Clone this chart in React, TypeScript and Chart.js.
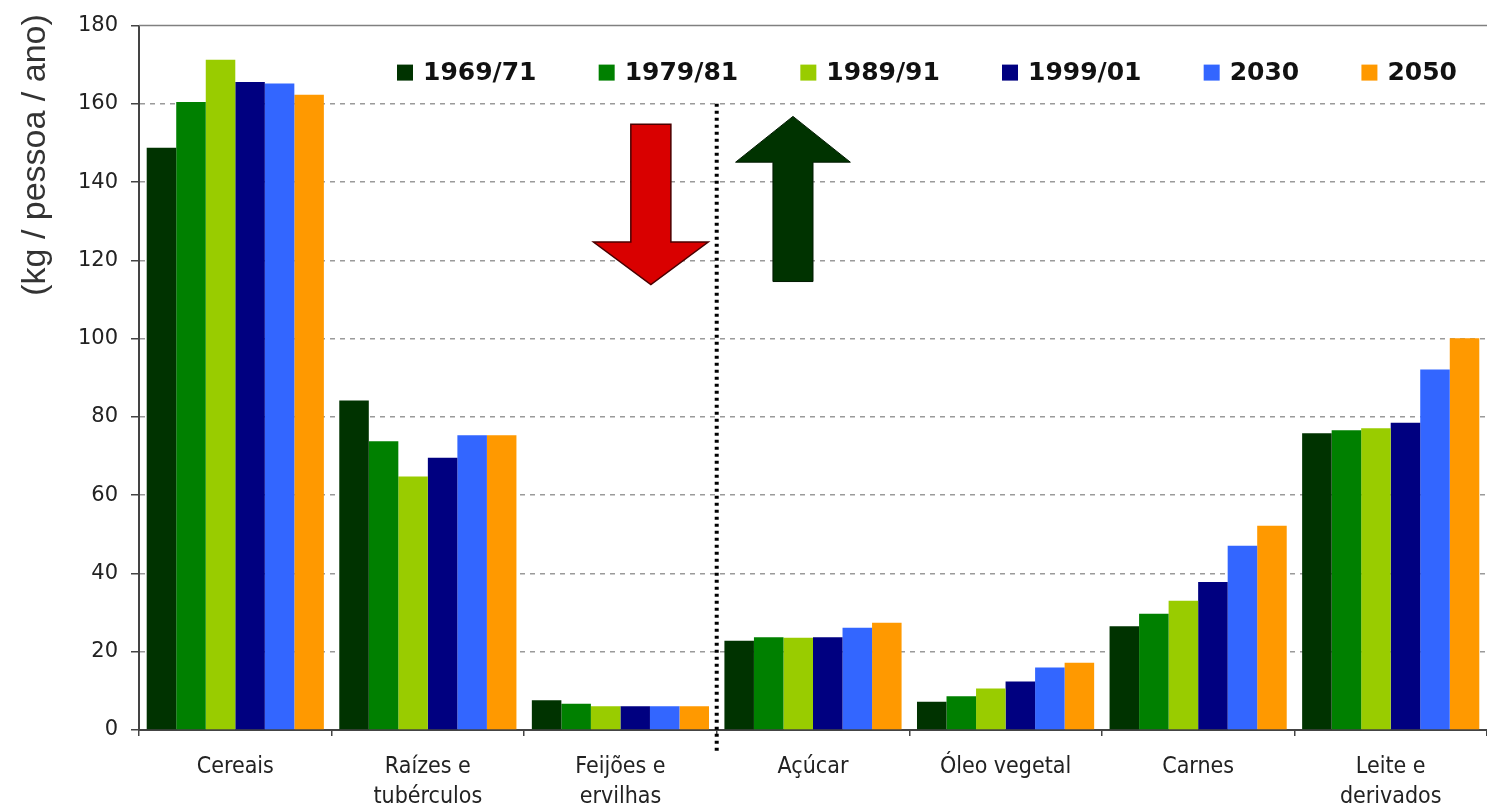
import React, { useEffect, useRef } from "react";
import { Chart, registerables } from "chart.js";

Chart.register(...registerables);

const categories: string[][] = [
  ["Cereais"],
  ["Raízes e", "tubérculos"],
  ["Feijões e", "ervilhas"],
  ["Açúcar"],
  ["Óleo vegetal"],
  ["Carnes"],
  ["Leite e", "derivados"],
];

const seriesLabels = ["1969/71", "1979/81", "1989/91", "1999/01", "2030", "2050"];
const seriesColors = ["#003300", "#008000", "#99CC00", "#000080", "#3366FF", "#FF9900"];

const v1969 = [148.8, 84.2, 7.6, 22.8, 7.2, 26.5, 75.8];
const v1979 = [160.5, 73.8, 6.7, 23.7, 8.6, 29.7, 76.6];
const v1989 = [171.3, 64.8, 6.1, 23.6, 10.6, 33.0, 77.1];
const v1999 = [165.6, 69.6, 6.1, 23.7, 12.4, 37.8, 78.5];
const v2030 = [165.2, 75.3, 6.1, 26.1, 16.0, 47.1, 92.1];
const v2050 = [162.3, 75.3, 6.1, 27.4, 17.2, 52.2, 100.1];
const seriesValues = [v1969, v1979, v1989, v1999, v2030, v2050];

const yTicks = [0, 20, 40, 60, 80, 100, 120, 140, 160, 180];
const yTitle = "(kg / pessoa / ano)";

// decorative arrows (in data units: category index, value)
const downArrow = { center: 2.158, top: 154.8, headBase: 124.7, tip: 113.8 };
const upArrow = { center: 2.896, tip: 156.8, headBase: 145.1, bottom: 114.6 };
const dividerIndex = 2.5;
const dividerTopValue = 160;

const FONT = "'DejaVu Sans', Verdana, sans-serif";
const FONT_COND = "'DejaVu Sans Condensed', 'DejaVu Sans', sans-serif";

const overlayPlugin = {
  id: "overlay",
  beforeDatasetsDraw(chart: any) {
    const { ctx, chartArea } = chart;
    ctx.save();
    ctx.strokeStyle = "#808080";
    ctx.lineWidth = 1.5;
    ctx.beginPath();
    ctx.moveTo(chartArea.left, chartArea.top);
    ctx.lineTo(chartArea.right, chartArea.top);
    ctx.stroke();
    ctx.restore();
  },
  afterDraw(chart: any) {
    const { ctx, chartArea } = chart;
    const xs = chart.scales.x;
    const ys = chart.scales.y;
    const catW = xs.getPixelForValue(1) - xs.getPixelForValue(0);

    // dotted divider
    const dx = xs.getPixelForValue(dividerIndex);
    ctx.save();
    ctx.strokeStyle = "#000";
    ctx.lineWidth = 4;
    ctx.setLineDash([3, 4]);
    ctx.beginPath();
    ctx.moveTo(dx, ys.getPixelForValue(dividerTopValue));
    ctx.lineTo(dx, chartArea.bottom + 22);
    ctx.stroke();
    ctx.restore();

    const shaftHalf = 0.104 * catW;
    const headHalf = 0.298 * catW;

    // red down arrow
    {
      const cx = xs.getPixelForValue(downArrow.center);
      const yTop = ys.getPixelForValue(downArrow.top);
      const yHead = ys.getPixelForValue(downArrow.headBase);
      const yTip = ys.getPixelForValue(downArrow.tip);
      ctx.save();
      ctx.beginPath();
      ctx.moveTo(cx - shaftHalf, yTop);
      ctx.lineTo(cx + shaftHalf, yTop);
      ctx.lineTo(cx + shaftHalf, yHead);
      ctx.lineTo(cx + headHalf, yHead);
      ctx.lineTo(cx, yTip);
      ctx.lineTo(cx - headHalf, yHead);
      ctx.lineTo(cx - shaftHalf, yHead);
      ctx.closePath();
      ctx.fillStyle = "#D90000";
      ctx.fill();
      ctx.strokeStyle = "#4a0000";
      ctx.lineWidth = 1.5;
      ctx.stroke();
      ctx.restore();
    }
    // green up arrow
    {
      const cx = xs.getPixelForValue(upArrow.center);
      const yTip = ys.getPixelForValue(upArrow.tip);
      const yHead = ys.getPixelForValue(upArrow.headBase);
      const yBot = ys.getPixelForValue(upArrow.bottom);
      ctx.save();
      ctx.beginPath();
      ctx.moveTo(cx, yTip);
      ctx.lineTo(cx + headHalf, yHead);
      ctx.lineTo(cx + shaftHalf, yHead);
      ctx.lineTo(cx + shaftHalf, yBot);
      ctx.lineTo(cx - shaftHalf, yBot);
      ctx.lineTo(cx - shaftHalf, yHead);
      ctx.lineTo(cx - headHalf, yHead);
      ctx.closePath();
      ctx.fillStyle = "#003300";
      ctx.fill();
      ctx.strokeStyle = "#001a00";
      ctx.lineWidth = 1;
      ctx.stroke();
      ctx.restore();
    }

    // legend inside plot area
    ctx.save();
    ctx.font = `bold 25px ${FONT}`;
    ctx.textBaseline = "middle";
    ctx.textAlign = "left";
    const box = 16;
    const boxGap = 10;
    const widths = seriesLabels.map((l) => ctx.measureText(l).width);
    const startX = chartArea.left + 258;
    const endX = chartArea.left + 1318;
    const total = widths.reduce((a, b) => a + b, 0) + seriesLabels.length * (box + boxGap);
    const gap = (endX - startX - total) / (seriesLabels.length - 1);
    const ly = chartArea.top + 47;
    let x = startX;
    seriesLabels.forEach((l, i) => {
      ctx.fillStyle = seriesColors[i];
      ctx.fillRect(x, ly - box / 2, box, box);
      ctx.fillStyle = "#111";
      ctx.fillText(l, x + box + boxGap, ly + 1);
      x += box + boxGap + widths[i] + gap;
    });
    ctx.restore();

    // y axis title
    ctx.save();
    ctx.translate(45, 155);
    ctx.rotate(-Math.PI / 2);
    ctx.font = `34px 'Liberation Sans', Arial, sans-serif`;
    ctx.fillStyle = "#333";
    ctx.textAlign = "center";
    ctx.textBaseline = "alphabetic";
    ctx.fillText(yTitle, 0, 0);
    ctx.restore();
  },
};

export default function App() {
  const ref = useRef<HTMLCanvasElement | null>(null);

  useEffect(() => {
    if (!ref.current) return;
    const chart = new Chart(ref.current, {
      type: "bar",
      data: {
        labels: categories,
        datasets: seriesLabels.map((label, i) => ({
          label,
          data: seriesValues[i],
          backgroundColor: seriesColors[i],
          borderWidth: 0,
          categoryPercentage: 0.92,
          barPercentage: 1.0,
        })),
      },
      options: {
        animation: false,
        responsive: false,
        maintainAspectRatio: false,
        layout: { padding: { top: 23, right: 0, left: 0, bottom: 0 } },
        plugins: {
          legend: { display: false },
          tooltip: { enabled: false },
        },
        scales: {
          x: {
            grid: {
              display: true,
              drawOnChartArea: false,
              drawTicks: true,
              tickLength: 6,
              offset: true,
              color: "#444",
              lineWidth: 1.5,
            },
            border: { display: true, color: "#444", width: 2 },
            ticks: {
              font: { family: FONT_COND, size: 23, lineHeight: 1.3 },
              color: "#222",
              padding: 16,
              maxRotation: 0,
              minRotation: 0,
              autoSkip: false,
            },
            afterFit: (s: any) => {
              s.height = 80;
            },
          },
          y: {
            min: 0,
            max: 180,
            afterBuildTicks: (s: any) => {
              s.ticks = yTicks.map((v) => ({ value: v }));
            },
            ticks: {
              font: { family: FONT, size: 21 },
              color: "#222",
              padding: 13,
            },
            grid: {
              color: (c: any) =>
                c.tick && (c.tick.value === 0 || c.tick.value === 180) ? "rgba(0,0,0,0)" : "#9a9a9a",
              tickColor: "#444",
              tickLength: 8,
              lineWidth: 1.5,
            },
            border: { display: true, color: "#444", width: 2, dash: [5, 5] },
            afterFit: (s: any) => {
              s.width = 139;
            },
          },
        },
      },
      plugins: [overlayPlugin],
    });
    return () => chart.destroy();
  }, []);

  return (
    <div style={{ position: "fixed", left: 0, top: 0, width: 1487, height: 810, background: "#fff" }}>
      <canvas ref={ref} width={1487} height={810} style={{ width: 1487, height: 810 }} />
    </div>
  );
}
